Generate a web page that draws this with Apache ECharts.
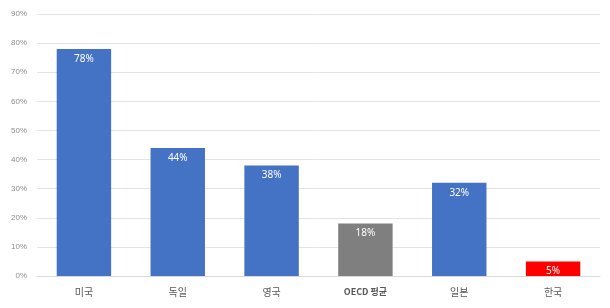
<!DOCTYPE html>
<html><head><meta charset="utf-8">
<script src="https://cdn.jsdelivr.net/npm/echarts@6/dist/echarts.min.js"></script>
<style>html,body{margin:0;padding:0;background:#fff}#c{width:610px;height:308px}</style>
</head><body><div id="c"></div>
<script>
const categories = ['미국', '독일', '영국', 'OECD 평균', '일본', '한국'];
const values = [78, 44, 38, 18, 32, 5];
const barColors = ['#4472C4', '#4472C4', '#4472C4', '#7F7F7F', '#4472C4', '#FF0000'];
const chart = echarts.init(document.getElementById('c'));
chart.setOption({
  animation: false,
  grid: {left: 37, right: 10, top: 14, bottom: 32},
  xAxis: {
    type: 'category', data: categories,
    axisLine: {lineStyle: {color: '#D9D9D9'}},
    axisTick: {show: false},
    axisLabel: {color: '#595959', fontSize: 10, margin: 11, fontFamily: 'Noto Sans CJK KR',
      formatter: v => v === 'OECD 평균' ? '{b|' + v + '}' : v,
      rich: {b: {fontWeight: 'bold', fontSize: 9, color: '#595959', fontFamily: 'Noto Sans CJK KR'}}}
  },
  yAxis: {
    type: 'value', min: 0, max: 90, interval: 10,
    axisLabel: {formatter: '{value}%', color: '#8C8C8C', fontSize: 8, margin: 10, fontFamily: 'Liberation Sans'},
    splitLine: {lineStyle: {color: '#E3E3E3'}},
    axisLine: {show: false}, axisTick: {show: false}
  },
  series: [{
    type: 'bar', barWidth: '58%',
    data: values.map((v, i) => ({value: v, itemStyle: {color: barColors[i]}})),
    label: {show: true, position: 'insideTop', distance: 5, formatter: '{c}%', color: '#fff', fontSize: 10, fontFamily: 'Noto Sans'}
  }]
});
</script></body></html>
